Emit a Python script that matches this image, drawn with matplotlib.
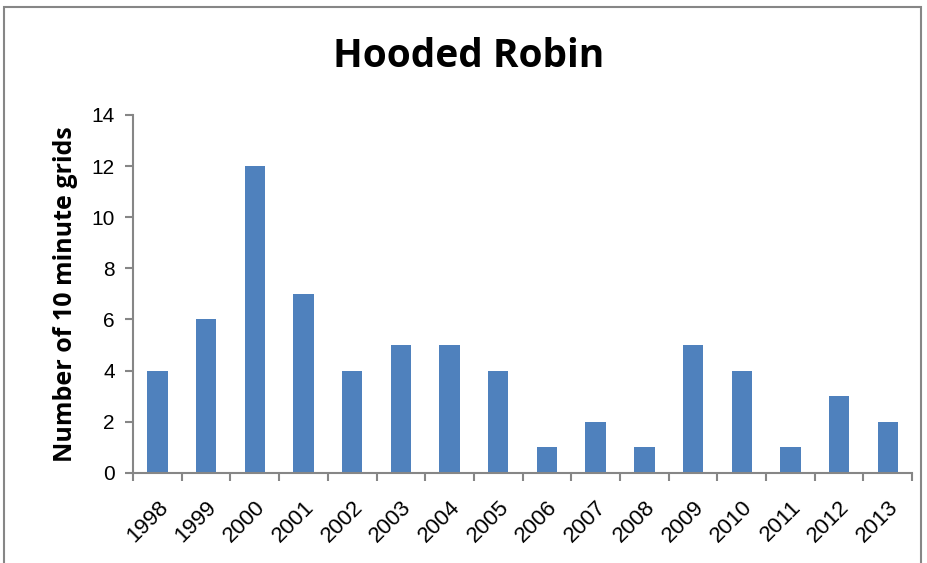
import matplotlib
matplotlib.use('Agg')
import matplotlib.pyplot as plt
from matplotlib.patches import Rectangle
from matplotlib.transforms import ScaledTranslation

# data
years = ['1998', '1999', '2000', '2001', '2002', '2003', '2004', '2005',
         '2006', '2007', '2008', '2009', '2010', '2011', '2012', '2013']
grids = [4, 6, 12, 7, 4, 5, 5, 4, 1, 2, 1, 5, 4, 1, 3, 2]

bar_color = '#4f81bd'
axis_grey = '#868686'

fig = plt.figure(figsize=(9.27, 5.63), dpi=100)
ax = fig.add_axes([0.1435, 0.16, 0.8405, 0.636])

# outer chart border
fig.patches.append(Rectangle((0.004, -0.01), 0.99, 0.997, transform=fig.transFigure,
                             fill=False, edgecolor=axis_grey, linewidth=1.5))

x = list(range(len(years)))
ax.bar(x, grids, width=0.42, color=bar_color)

ax.set_xlim(-0.5, len(years) - 0.5)
ax.set_ylim(0, 14)
ax.set_yticks(range(0, 15, 2))
ax.set_xticks(x)
ax.set_xticklabels(years, rotation=45, ha='right', rotation_mode='anchor',
                   fontsize=16, family='Liberation Sans')
# nudge the rotated labels a bit to the right, like the original
shift = ScaledTranslation(6 / 100, 0, fig.dpi_scale_trans)
for lbl in ax.get_xticklabels():
    lbl.set_transform(lbl.get_transform() + shift)
ax.set_xticks([i - 0.5 for i in range(len(years) + 1)], minor=True)
ax.tick_params(axis='x', which='major', length=0, pad=17)
ax.tick_params(axis='x', which='minor', length=6, width=1.5, color=axis_grey, direction='out')
ax.tick_params(axis='y', length=6, width=1.5, color=axis_grey, labelsize=15, pad=7)
for lbl in ax.get_yticklabels():
    lbl.set_family('Liberation Sans')

for side in ['top', 'right']:
    ax.spines[side].set_visible(False)
for side in ['left', 'bottom']:
    ax.spines[side].set_color(axis_grey)
    ax.spines[side].set_linewidth(1.5)

ax.set_ylabel('Number of 10 minute grids', fontsize=18, fontweight='bold',
              family='Open Sans', labelpad=10)
fig.text(0.505, 0.9, 'Hooded Robin', ha='center', va='center', fontsize=28,
         fontweight='bold', family='Open Sans')

fig.savefig('out.png', dpi=100)
